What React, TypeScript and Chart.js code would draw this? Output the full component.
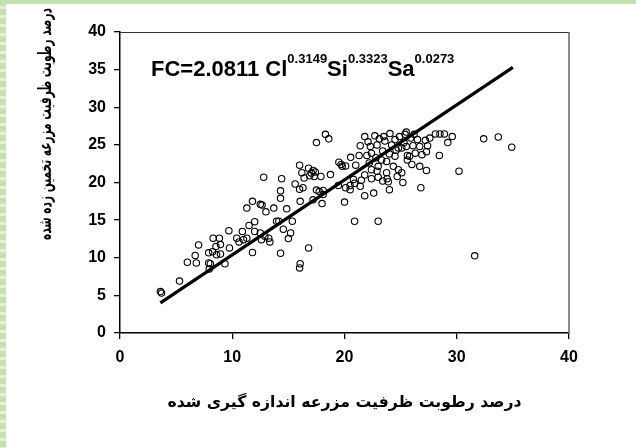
import React, { useEffect, useRef } from "react";
import { Chart, registerables } from "chart.js";
Chart.register(...registerables);

// measured field capacity (x) and estimated field capacity (y)
const measuredFC = [
  3.6, 3.7, 5.3, 6.0, 6.7, 7.0, 6.8, 7.9, 7.9, 8.05, 7.95, 8.3, 8.25, 8.55, 8.85, 8.95, 8.6, 8.95, 9.35, 9.7,
  9.75, 10.4, 10.6, 10.9, 11.0, 11.3, 11.3, 11.5, 11.8, 11.8, 12.0, 12.0, 12.5, 12.65, 12.5, 12.6, 12.9, 13.0, 13.35, 13.25,
  13.7, 13.95, 14.15, 14.3, 14.3, 14.3, 14.55, 14.85, 15.0, 15.2, 15.35, 15.6, 16.0, 16.05, 16.05, 16.0, 16.3, 16.8, 17.2, 17.5,
  18.1, 17.75, 18.0, 18.1, 19.45, 20.0, 20.1, 20.5, 20.9, 23.0, 12.8, 14.4, 16.0, 16.8, 16.2, 16.4, 16.9, 17.05, 17.4, 17.3,
  17.9, 18.75, 19.5, 19.7, 20.1, 20.55, 21.0, 21.3, 21.4, 17.5, 18.3, 18.6, 21.8, 22.0, 22.4, 22.3, 22.7, 22.9, 23.5, 23.6,
  24.05, 24.2, 24.5, 24.5, 24.8, 25.4, 25.5, 25.6, 24.35, 24.8, 25.2, 23.8, 23.4, 23.0, 24.0, 22.4, 22.6, 21.8, 21.4, 20.9,
  20.5, 23.0, 23.3, 23.75, 21.5, 20.8, 22.4, 23.75, 23.9, 24.7, 25.1, 26.8, 31.6, 32.4, 33.7, 34.9, 28.45, 29.2, 29.6, 28.9,
  28.5, 28.1, 27.6, 27.4, 27.3, 26.7, 27.3, 30.2, 25.5, 26.9, 26.3, 25.8, 25.6, 26.1, 26.7, 27.2, 26.5, 25.1, 19.8, 17.2,
  22.2, 22.8, 23.4, 24.0, 24.6, 25.3, 25.9, 26.2, 22.1, 23.1, 24.9, 26.0, 21.8, 22.9
];
const estimatedFC = [
  5.5, 5.3, 6.9, 9.4, 10.3, 11.7, 9.3, 10.65, 9.3, 9.2, 8.5, 12.6, 10.8, 11.5, 12.6, 11.75, 10.4, 10.5, 9.2, 13.6,
  11.3, 12.6, 12.1, 13.5, 12.4, 12.6, 16.6, 14.3, 17.5, 10.7, 14.8, 13.5, 17.1, 17.0, 13.3, 12.4, 12.85, 16.1, 12.1, 12.6,
  16.6, 14.85, 14.85, 18.9, 17.9, 10.6, 13.8, 16.5, 12.55, 13.3, 14.85, 19.8, 8.65, 9.2, 17.5, 19.1, 19.3, 11.3, 17.7, 19.0,
  18.95, 18.8, 17.2, 18.4, 19.6, 17.4, 19.3, 19.6, 14.85, 14.85, 20.7, 20.5, 22.3, 21.9, 21.3, 20.6, 20.9, 21.25, 21.4, 20.8,
  20.8, 21.05, 22.7, 22.4, 22.2, 23.35, 22.3, 23.6, 24.9, 25.3, 26.4, 25.8, 26.1, 23.6, 23.9, 24.8, 26.2, 25.0, 26.1, 25.5,
  26.5, 25.0, 25.7, 23.5, 24.6, 26.4, 24.8, 23.6, 22.15, 21.7, 20.0, 20.5, 20.2, 20.7, 19.05, 20.5, 18.6, 18.25, 19.5, 19.9,
  19.05, 22.15, 23.0, 22.8, 20.3, 20.4, 21.7, 21.3, 20.1, 20.8, 21.3, 19.3, 10.25, 25.8, 26.05, 24.7, 23.6, 25.3, 26.1, 26.45,
  26.45, 26.45, 25.9, 24.9, 24.1, 22.15, 21.6, 21.5, 26.7, 23.7, 23.9, 23.5, 23.0, 24.9, 24.8, 25.6, 25.7, 24.6, 22.15, 21.6,
  22.6, 23.3, 24.2, 23.8, 24.3, 25.3, 25.9, 26.4, 25.4, 25.8, 26.1, 22.4, 21.0, 21.5
];

// fitted line end points
const fitX = [3.6, 35.0];
const fitY = [4.0, 35.3];

const xTicks = [0, 10, 20, 30, 40];
const yTicks = [0, 5, 10, 15, 20, 25, 30, 35, 40];

const xTitle = "درصد رطوبت ظرفیت مزرعه اندازه گیری شده";
const yTitle = "درصد رطوبت ظرفیت مزرعه تخمین زده شده";
const equationParts = ["FC=2.0811 Cl", "0.3149", "Si", "0.3323", "Sa", "0.0273"];

const LATIN = '"Liberation Sans", Arial, sans-serif';
const PERSIAN = '"DejaVu Sans", sans-serif';

const overlayPlugin = {
  id: "overlay",
  afterDraw(chart: any) {
    const { ctx, chartArea } = chart;
    ctx.save();
    // top and right frame
    ctx.strokeStyle = "#333";
    ctx.lineWidth = 1;
    ctx.beginPath();
    ctx.moveTo(chartArea.left, chartArea.top + 0.5);
    ctx.lineTo(chartArea.right, chartArea.top + 0.5);
    ctx.stroke();
    ctx.strokeStyle = "#666";
    ctx.lineWidth = 1.5;
    ctx.beginPath();
    ctx.moveTo(chartArea.right, chartArea.top);
    ctx.lineTo(chartArea.right, chartArea.bottom);
    ctx.stroke();

    // equation
    let x = chartArea.left + 31;
    const base = chartArea.top + 43.5;
    ctx.fillStyle = "#000";
    ctx.textAlign = "left";
    ctx.textBaseline = "alphabetic";
    equationParts.forEach((t, i) => {
      const sup = i % 2 === 1;
      ctx.font = sup ? `bold 13px ${LATIN}` : `bold 22px ${LATIN}`;
      ctx.fillText(t, x, sup ? base - 12.5 : base);
      x += ctx.measureText(t).width;
    });

    // y axis title
    ctx.font = `bold 18px ${PERSIAN}`;
    const w = ctx.measureText(yTitle).width;
    ctx.translate(46, 124);
    ctx.rotate(-Math.PI / 2);
    ctx.scale(232 / w, 1);
    ctx.textAlign = "center";
    ctx.textBaseline = "middle";
    ctx.fillText(yTitle, 0, 0);
    ctx.restore();
  },
};

export default function App() {
  const ref = useRef<HTMLCanvasElement | null>(null);
  useEffect(() => {
    const canvas = ref.current;
    if (!canvas) return;
    const chart = new Chart(canvas, {
      type: "scatter",
      data: {
        datasets: [
          {
            label: "fit",
            data: fitX.map((x, i) => ({ x, y: fitY[i] })),
            showLine: true,
            borderColor: "#000",
            borderWidth: 3.2,
            pointRadius: 0,
            order: 0,
          },
          {
            label: "points",
            data: measuredFC.map((x, i) => ({ x, y: estimatedFC[i] })),
            pointStyle: "circle",
            pointRadius: 3.2,
            borderColor: "#000",
            borderWidth: 1.1,
            backgroundColor: "rgba(0,0,0,0)",
            order: 1,
          },
        ],
      },
      options: {
        responsive: false,
        animation: false,
        layout: { padding: { left: 0, right: 67, top: 32, bottom: 0 } },
        plugins: { legend: { display: false }, tooltip: { enabled: false } },
        scales: {
          x: {
            type: "linear",
            min: 0,
            max: 40,
            afterBuildTicks: (axis: any) => {
              axis.ticks = xTicks.map((v) => ({ value: v }));
            },
            afterFit: (axis: any) => {
              axis.height = 115;
            },
            ticks: { color: "#000", font: { family: LATIN, size: 16, weight: "bold" }, padding: 9 },
            grid: { drawOnChartArea: false, drawTicks: true, tickLength: 6, color: "#000", lineWidth: 1.3 },
            border: { color: "#000", width: 1.5 },
            title: {
              display: true,
              text: xTitle,
              color: "#000",
              font: { family: PERSIAN, size: 15.7, weight: "bold" },
              padding: { top: 0, bottom: 36 },
            },
          },
          y: {
            type: "linear",
            min: 0,
            max: 40,
            afterBuildTicks: (axis: any) => {
              axis.ticks = yTicks.map((v) => ({ value: v }));
            },
            afterFit: (axis: any) => {
              axis.width = 120;
            },
            ticks: { color: "#000", font: { family: LATIN, size: 16, weight: "bold" }, padding: 8 },
            grid: { drawOnChartArea: false, drawTicks: true, tickLength: 6, color: "#000", lineWidth: 1.3 },
            border: { color: "#000", width: 1.5 },
          },
        },
      },
      plugins: [overlayPlugin],
    });
    return () => chart.destroy();
  }, []);

  return (
    <div style={{ position: "absolute", left: 0, top: 0, width: 636, height: 448, background: "#fff" }}>
      <canvas ref={ref} width={636} height={448} style={{ display: "block", width: 636, height: 448 }} />
      <div style={{ position: "absolute", left: 0, top: 0, width: 636, height: 4, background: "#c5e0b3" }} />
      <div
        style={{
          position: "absolute",
          left: 0,
          top: 0,
          width: 6,
          height: 448,
          background: "repeating-linear-gradient(to bottom, #c5e0b3 0px, #c5e0b3 6px, #e4f0da 6px, #e4f0da 9px)",
        }}
      />
    </div>
  );
}
